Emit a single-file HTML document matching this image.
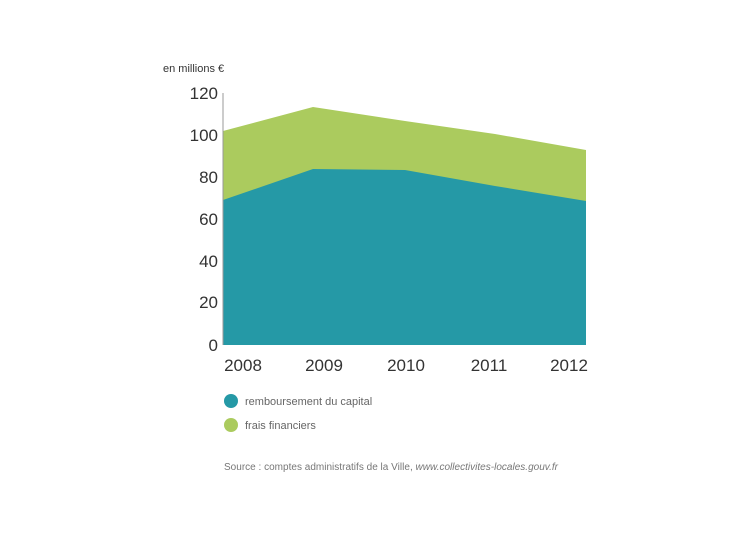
<!DOCTYPE html>
<html><head><meta charset="utf-8"><style>
body{margin:0;background:#fff;}
svg text{font-family:"Liberation Sans",sans-serif;}
</style></head><body>
<svg width="750" height="536" xmlns="http://www.w3.org/2000/svg">
<rect width="750" height="536" fill="#fff"/>
<text x="163" y="72" font-size="11" fill="#333">en millions €</text>
<polygon points="223,131 313,107 405,121 495,134 586,150 586,345 223,345" fill="#abcb5e"/>
<polygon points="223,200 313,169 405,170 495,186 586,201 586,345 223,345" fill="#2599a6"/>
<line x1="223" y1="93" x2="223" y2="345" stroke="#999" stroke-width="1"/>
<g font-size="17" fill="#333" text-anchor="end">
<text x="218" y="99">120</text>
<text x="218" y="141">100</text>
<text x="218" y="183">80</text>
<text x="218" y="225">60</text>
<text x="218" y="267">40</text>
<text x="218" y="308">20</text>
<text x="218" y="351">0</text>
</g>
<g font-size="17" fill="#333" text-anchor="middle">
<text x="243" y="371">2008</text>
<text x="324" y="371">2009</text>
<text x="406" y="371">2010</text>
<text x="489" y="371">2011</text>
<text x="569" y="371">2012</text>
</g>
<circle cx="231" cy="401" r="7" fill="#2599a6"/>
<circle cx="231" cy="425" r="7" fill="#abcb5e"/>
<text x="245" y="405" font-size="11" fill="#666">remboursement du capital</text>
<text x="245" y="429" font-size="11" fill="#666">frais financiers</text>
<text x="224" y="470" font-size="10" fill="#777" textLength="334">Source : comptes administratifs de la Ville, <tspan font-style="italic">www.collectivites-locales.gouv.fr</tspan></text>
</svg>
</body></html>
